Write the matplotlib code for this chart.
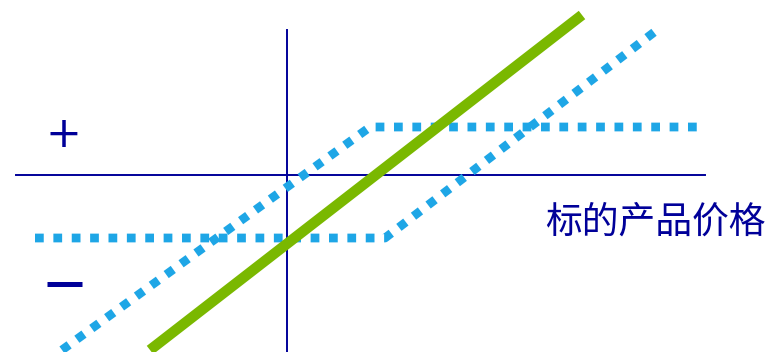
import matplotlib.pyplot as plt

plt.rcParams['font.family'] = ['Noto Sans CJK SC', 'DejaVu Sans']

# pixel-like coordinates, y grows downward
axis_h_x = [16, 705]
axis_h_y = [175, 175]
axis_v_x = [287, 287]
axis_v_y = [30, 352]

# underlying price line (green)
green_x = [150, 582]
green_y = [350, 15]

# option payoff lines (blue dotted)
upper_x = [62, 370, 705]
upper_y = [350, 127, 127]
lower_x = [35, 385, 657]
lower_y = [238, 238, 30]

navy = '#000099'
blue = '#1ea6e6'
green = '#7ab800'

fig = plt.figure(figsize=(7.7, 3.52), dpi=100)
ax = fig.add_axes([0, 0, 1, 1])
ax.set_xlim(0, 770)
ax.set_ylim(352, 0)
ax.axis('off')

ax.plot(axis_h_x, axis_h_y, color=navy, lw=1.4)
ax.plot(axis_v_x, axis_v_y, color=navy, lw=1.4)

ax.plot(upper_x, upper_y, color=blue, lw=6.3, linestyle=(0, (1, 1.1)),
        dash_capstyle='butt', solid_joinstyle='miter')
ax.plot(lower_x, lower_y, color=blue, lw=6.3, linestyle=(0, (1, 1.1)),
        dash_capstyle='butt', solid_joinstyle='miter')
ax.plot(green_x, green_y, color=green, lw=7.6, solid_capstyle='butt')

ax.text(63, 135, '+', color=navy, fontsize=31, ha='center', va='center',
        family='DejaVu Sans')
ax.plot([47, 82], [284, 284], color=navy, lw=3.6, solid_capstyle='butt')
ax.text(655, 222, '标的产品价格', color=navy, fontsize=26.5, ha='center', va='center')

fig.savefig('out.png', dpi=100)
